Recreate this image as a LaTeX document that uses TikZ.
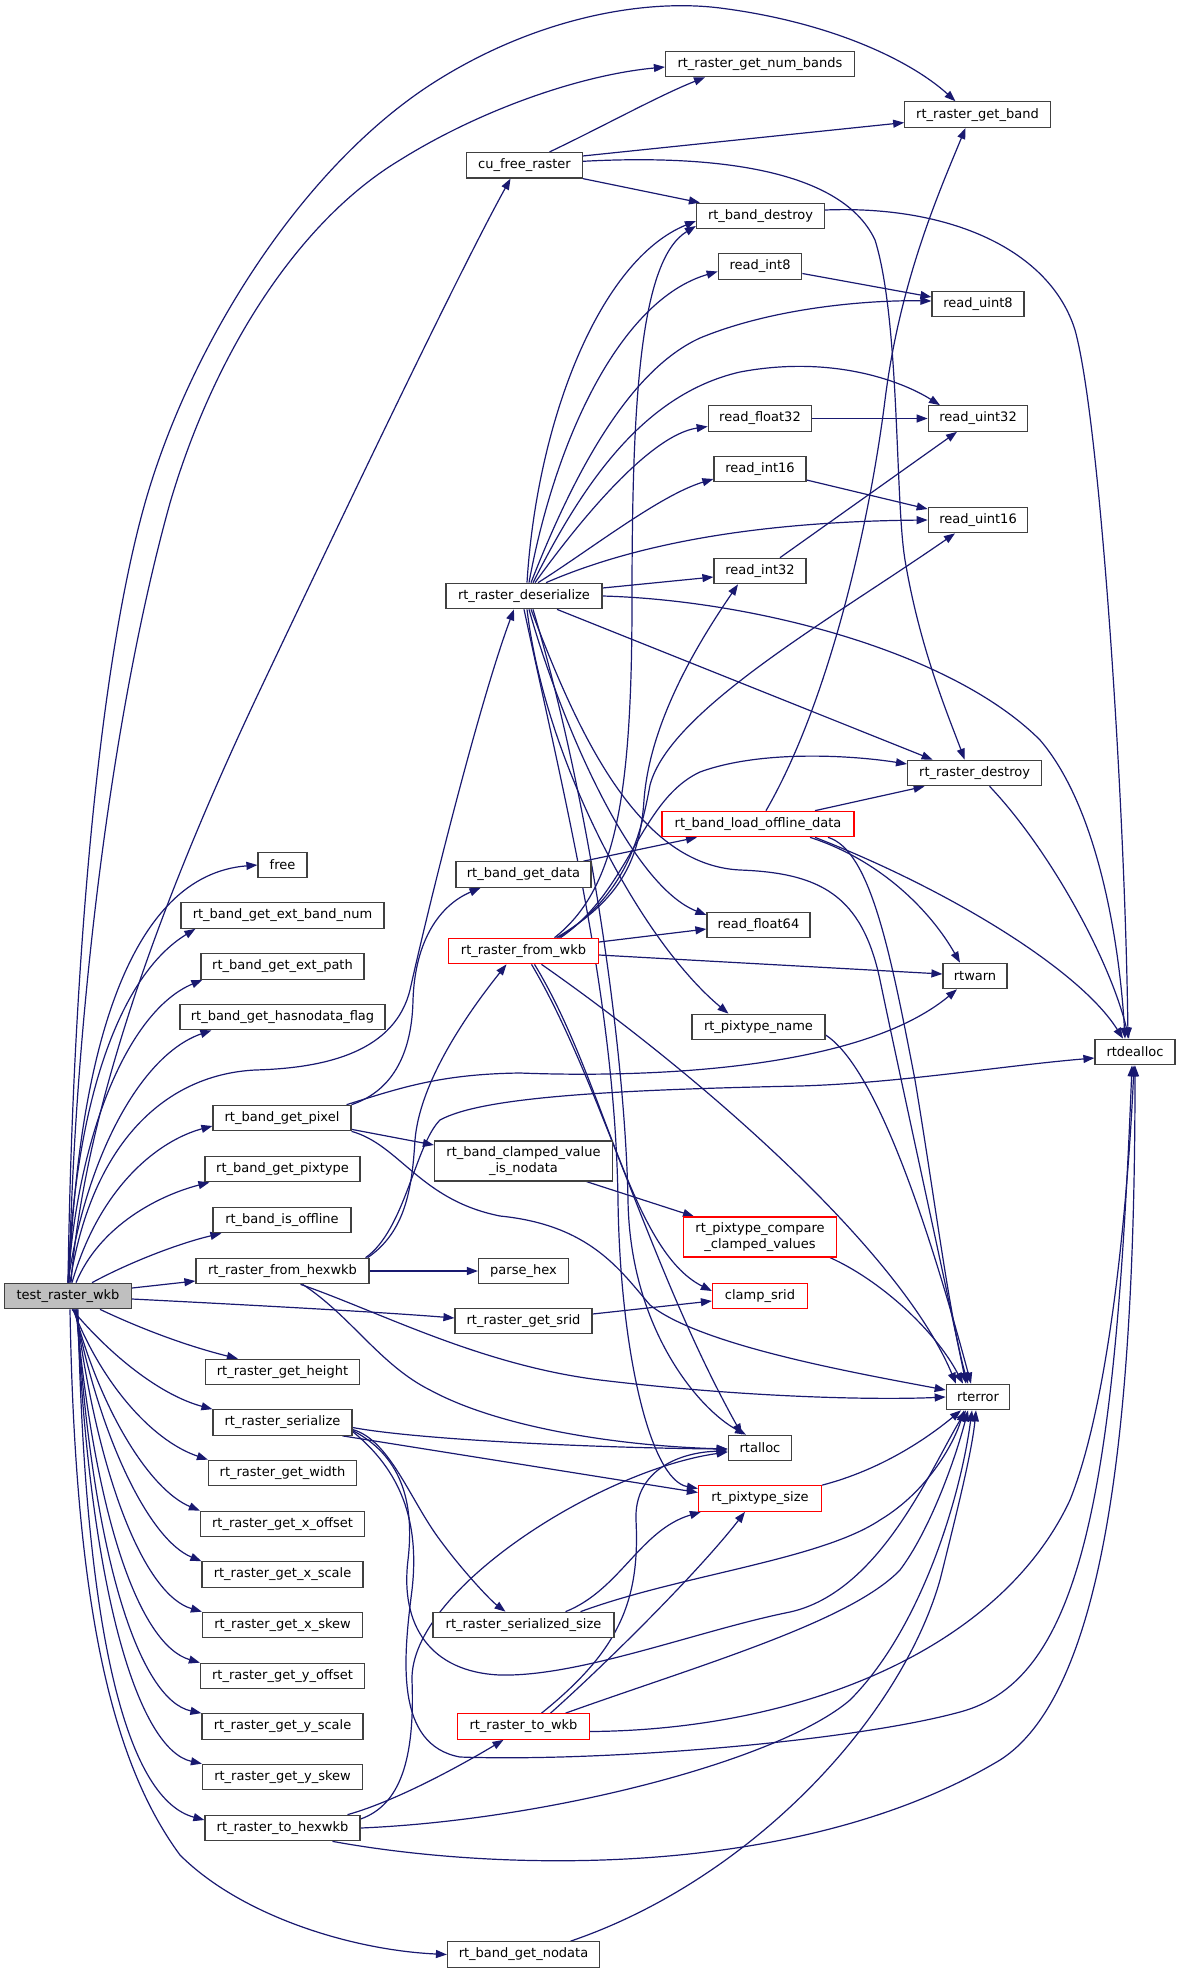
\documentclass[tikz,border=0pt]{standalone}
\usepackage{fontspec}
\setmainfont{DejaVu Sans}
\usetikzlibrary{arrows.meta}
\definecolor{edgec}{RGB}{25,25,112}
\definecolor{tfill}{RGB}{191,191,191}
\definecolor{bord}{RGB}{64,64,64}
\pgfdeclarelayer{bg}
\pgfsetlayers{bg,main}
\begin{document}
\begin{tikzpicture}[x=1pt,y=-1pt,
  nd/.style={draw=bord, line width=1.2pt, fill=white, minimum height=25.5pt, inner sep=0pt, font=\fontsize{13}{16}\selectfont},
  rnd/.style={nd, draw=red},
  e/.style={draw=edgec, line width=1.2pt, -{Triangle[length=11pt,width=8pt]}}]
\useasboundingbox (0,0) rectangle (1176,1973);
% column 1
\node[nd, fill=tfill, minimum width=127pt] (T) at (68,1296) {test\_raster\_wkb};
% column 2
\node[nd, minimum width=49pt] (free) at (282.5,865) {free};
\node[nd, minimum width=203pt] (ebn) at (282.5,915.5) {rt\_band\_get\_ext\_band\_num};
\node[nd, minimum width=163pt] (ep) at (282.5,966.5) {rt\_band\_get\_ext\_path};
\node[nd, minimum width=205pt] (hnf) at (282.5,1017) {rt\_band\_get\_hasnodata\_flag};
\node[nd, minimum width=138pt] (gp) at (282,1118) {rt\_band\_get\_pixel};
\node[nd, minimum width=155pt] (gpt) at (282.5,1169) {rt\_band\_get\_pixtype};
\node[nd, minimum width=138pt] (io) at (282,1220) {rt\_band\_is\_offline};
\node[nd, minimum width=173pt] (fh) at (282.5,1271) {rt\_raster\_from\_hexwkb};
\node[nd, minimum width=154pt] (gh) at (282.5,1372) {rt\_raster\_get\_height};
\node[nd, minimum width=139pt] (S) at (282.5,1422.5) {rt\_raster\_serialize};
\node[nd, minimum width=148pt] (gw) at (282.5,1473) {rt\_raster\_get\_width};
\node[nd, minimum width=164pt] (xo) at (282.5,1524) {rt\_raster\_get\_x\_offset};
\node[nd, minimum width=161pt] (xs) at (282.5,1574.5) {rt\_raster\_get\_x\_scale};
\node[nd, minimum width=160pt] (xk) at (282.5,1625) {rt\_raster\_get\_x\_skew};
\node[nd, minimum width=164pt] (yo) at (282.5,1676) {rt\_raster\_get\_y\_offset};
\node[nd, minimum width=161pt] (ys) at (282.5,1726.5) {rt\_raster\_get\_y\_scale};
\node[nd, minimum width=160pt] (yk) at (282.5,1777) {rt\_raster\_get\_y\_skew};
\node[nd, minimum width=155pt] (TH) at (282.5,1828) {rt\_raster\_to\_hexwkb};
% column 3
\node[nd, minimum width=116pt] (C) at (524.5,165.3) {cu\_free\_raster};
\node[nd, minimum width=156pt] (D) at (524,596) {rt\_raster\_deserialize};
\node[nd, minimum width=135pt] (GD) at (523.5,874.5) {rt\_band\_get\_data};
\node[rnd, minimum width=150pt] (W) at (523.5,951) {rt\_raster\_from\_wkb};
\node[nd, minimum width=178pt, minimum height=40pt, align=center] (CV) at (523.5,1161) {rt\_band\_clamped\_value\\\_is\_nodata};
\node[nd, minimum width=90pt] (ph) at (523.5,1271) {parse\_hex};
\node[nd, minimum width=137pt] (srid) at (523.5,1321) {rt\_raster\_get\_srid};
\node[nd, minimum width=181pt] (SS) at (523.5,1625) {rt\_raster\_serialized\_size};
\node[rnd, minimum width=132pt] (TW) at (523.5,1726.5) {rt\_raster\_to\_wkb};
\node[nd, minimum width=152pt] (GN) at (523.5,1954.5) {rt\_band\_get\_nodata};
% column 4
\node[nd, minimum width=189pt] (NB) at (760,64) {rt\_raster\_get\_num\_bands};
\node[nd, minimum width=128pt] (BD) at (760.5,216) {rt\_band\_destroy};
\node[nd, minimum width=83.5pt] (ri8) at (760,266.5) {read\_int8};
\node[nd, minimum width=103.5pt] (rf32) at (760,418.5) {read\_float32};
\node[nd, minimum width=92pt] (ri16) at (760,469) {read\_int16};
\node[nd, minimum width=92pt] (ri32) at (760,571) {read\_int32};
\node[rnd, minimum width=192pt] (LO) at (758,824) {rt\_band\_load\_offline\_data};
\node[nd, minimum width=103pt] (rf64) at (758.5,925) {read\_float64};
\node[nd, minimum width=133pt] (PN) at (758.5,1027) {rt\_pixtype\_name};
\node[rnd, minimum width=153.5pt, minimum height=40pt, align=center] (PC) at (760,1237) {rt\_pixtype\_compare\\\_clamped\_values};
\node[rnd, minimum width=95pt] (CS) at (760,1296) {clamp\_srid};
\node[nd, minimum width=63.5pt] (RA) at (760,1448) {rtalloc};
\node[rnd, minimum width=123pt] (PS) at (760,1498.5) {rt\_pixtype\_size};
% column 5
\node[nd, minimum width=145.5pt] (GB) at (977.5,114.6) {rt\_raster\_get\_band};
\node[nd, minimum width=92pt] (ru8) at (978,304) {read\_uint8};
\node[nd, minimum width=99.5pt] (ru32) at (978,418.5) {read\_uint32};
\node[nd, minimum width=99.5pt] (ru16) at (978,520) {read\_uint16};
\node[nd, minimum width=134pt] (RD) at (974.6,773) {rt\_raster\_destroy};
\node[nd, minimum width=64pt] (RW) at (975,976) {rtwarn};
\node[nd, minimum width=63.5pt] (RE) at (978,1397) {rterror};
% column 6
\node[nd, minimum width=80pt] (DA) at (1135,1052) {rtdealloc};

\begin{pgfonlayer}{bg}
% from test_raster_wkb
\draw[e] (T.north) .. controls (72,1000) and (95,680) .. (145,503) .. controls (190,345) and (300,170) .. (430,85) .. controls (530,20) and (640,-2) .. (720,8) .. controls (830,22) and (910,60) .. ([xshift=-22pt]GB.north);
\draw[e] ([xshift=1pt]T.north) .. controls (75,1000) and (115,700) .. (170,503) .. controls (215,350) and (300,220) .. (400,160) .. controls (480,110) and (580,75) .. ([yshift=-3pt]NB.west);
\draw[e] ([xshift=3pt]T.north) .. controls (85,1100) and (170,880) .. (260,690) .. controls (350,500) and (460,270) .. ([xshift=-14pt]C.south);
\draw[e] ([xshift=1pt]T.north) .. controls (78,1050) and (130,875) .. (free.west);
\draw[e] (T.north) .. controls (75,1100) and (120,975) .. ([xshift=15pt]ebn.south west);
\draw[e] (T.north) .. controls (78,1130) and (130,1010) .. ([xshift=2pt]ep.south west);
\draw[e] (T.north) .. controls (85,1160) and (140,1055) .. ([xshift=32pt]hnf.south west);
\draw[e] ([xshift=2pt]T.north) .. controls (90,1150) and (160,1075) .. (255,1070) .. controls (330,1068) and (395,1050) .. (410,990) .. controls (430,900) and (480,700) .. ([xshift=-10pt]D.south);
\draw[e] ([xshift=4pt]T.north) .. controls (100,1185) and (160,1140) .. ([yshift=-8pt]gp.west);
\draw[e] ([xshift=8pt]T.north) .. controls (100,1225) and (160,1195) .. ([xshift=5pt]gpt.south west);
\draw[e] ([xshift=24pt]T.north) .. controls (130,1262) and (180,1243) .. ([xshift=9pt]io.south west);
\draw[e] ([yshift=8pt]T.east) -- ([yshift=-10pt]fh.west);
\draw[e] ([yshift=-3pt]T.east) .. controls (250,1305) and (380,1312) .. ([yshift=3pt]srid.west);
\draw[e] ([xshift=32pt]T.south) .. controls (150,1333) and (195,1348) .. ([xshift=33pt]gh.north west);
\draw[e] ([xshift=4pt]T.south) .. controls (110,1355) and (160,1395) .. (S.north west);
\draw[e] ([xshift=5pt]T.south) .. controls (100,1380) and (150,1440) .. (gw.north west);
\draw[e] ([xshift=6pt]T.south) .. controls (100,1410) and (150,1490) .. (xo.north west);
\draw[e] ([xshift=7pt]T.south) .. controls (100,1440) and (150,1540) .. (xs.north west);
\draw[e] ([xshift=8pt]T.south) .. controls (98,1480) and (145,1595) .. (xk.north west);
\draw[e] ([xshift=8pt]T.south) .. controls (95,1520) and (140,1645) .. (yo.north west);
\draw[e] ([xshift=9pt]T.south) .. controls (92,1560) and (140,1700) .. (ys.north west);
\draw[e] ([xshift=9pt]T.south) .. controls (90,1600) and (140,1750) .. (yk.north west);
\draw[e] ([xshift=10pt]T.south) .. controls (85,1650) and (130,1800) .. ([yshift=8pt]TH.west);
\draw[e] ([xshift=2pt]T.south) .. controls (75,1600) and (110,1760) .. (180,1855) .. controls (240,1915) and (350,1950) .. (GN.west);
% cu_free_raster
\draw[e] ([xshift=25pt]C.north) .. controls (600,128) and (660,95) .. ([xshift=-55pt]NB.south);
\draw[e] ([yshift=-4pt]C.north east) -- ([yshift=-8pt]GB.west);
\draw[e] ([yshift=4pt]C.east) .. controls (700,155) and (840,165) .. (875,240) .. controls (900,320) and (895,500) .. (905,560) .. controls (920,650) and (950,720) .. ([xshift=-10pt]RD.north);
\draw[e] (C.south east) -- ([xshift=4pt]BD.north west);
% rt_band_destroy
\draw[e] ([yshift=6pt]BD.east) .. controls (950,205) and (1050,250) .. (1075,330) .. controls (1100,420) and (1125,800) .. ([xshift=-7pt]DA.north);
% read_*
\draw[e] ([yshift=-7pt]ri8.east) -- ([yshift=7pt]ru8.west);
\draw[e] (rf32) -- (ru32);
\draw[e] ([yshift=-11pt]ri16.east) -- ([yshift=11pt]ru16.west);
\draw[e] ([xshift=20pt]ri32.north) -- ([xshift=-21pt]ru32.south);
% rt_raster_deserialize
\draw[e] ([xshift=3pt]D.north) .. controls (537,420) and (600,260) .. ([yshift=-5pt]BD.west);
\draw[e] ([xshift=5pt]D.north) .. controls (555,440) and (620,300) .. ([yshift=-5pt]ri8.west);
\draw[e] ([xshift=7pt]D.north) .. controls (575,470) and (630,370) .. (700,338) .. controls (780,305) and (880,300) .. ([yshift=3pt]ru8.west);
\draw[e] ([xshift=9pt]D.north) .. controls (580,490) and (640,395) .. (740,372) .. controls (830,355) and (900,380) .. ([xshift=-38pt]ru32.north);
\draw[e] ([xshift=11pt]D.north) .. controls (580,520) and (650,435) .. ([yshift=-8pt]rf32.west);
\draw[e] ([xshift=14pt]D.north) .. controls (590,550) and (660,495) .. ([yshift=-10pt]ri16.west);
\draw[e] ([xshift=22pt]D.north) .. controls (610,555) and (720,522) .. (ru16.west);
\draw[e] ([yshift=8pt]D.east) -- ([yshift=-6pt]ri32.west);
\draw[e] (D.east) .. controls (750,600) and (950,650) .. (1040,740) .. controls (1100,810) and (1120,950) .. ([xshift=-10pt]DA.north);
\draw[e] ([xshift=33pt]D.south) -- ([xshift=-42pt]RD.north);
\draw[e] ([xshift=5pt]D.south) .. controls (560,720) and (630,885) .. ([yshift=10pt]rf64.west);
\draw[e] ([xshift=3pt]D.south) .. controls (545,760) and (640,940) .. ([xshift=-30pt]PN.north);
\draw[e] ([xshift=7pt]D.south) .. controls (580,740) and (640,865) .. (740,870) .. controls (820,873) and (862,895) .. (880,980) .. controls (905,1100) and (945,1280) .. ([xshift=-12pt]RE.north);
\draw[e] (D.south) .. controls (565,800) and (615,1000) .. (618,1200) .. controls (620,1350) and (650,1480) .. ([yshift=10pt]PS.west);
\draw[e] ([xshift=9pt]D.south) .. controls (590,800) and (625,1050) .. (628,1200) .. controls (630,1330) and (700,1410) .. ([xshift=-14pt]RA.north);
% rt_raster_from_wkb
\draw[e] ([xshift=33pt]W.north) .. controls (620,900) and (640,860) .. (644,800) .. controls (650,720) and (700,640) .. ([xshift=-22pt]ri32.south);
\draw[e] ([xshift=35pt]W.north) .. controls (625,895) and (640,840) .. (650,785) .. controls (670,710) and (830,620) .. ([xshift=-23pt]ru16.south);
\draw[e] ([xshift=37pt]W.north) .. controls (630,890) and (640,800) .. (700,772) .. controls (760,750) and (850,755) .. ([yshift=9pt]RD.west);
\draw[e] ([xshift=31pt]W.north) .. controls (615,890) and (632,800) .. (632,600) .. controls (632,400) and (640,260) .. ([yshift=-10pt]BD.west);
\draw[e] ([yshift=9pt]W.east) -- ([yshift=-4pt]rf64.west);
\draw[e] ([yshift=-4pt]W.east) -- ([yshift=2pt]RW.west);
\draw[e] ([xshift=18pt]W.south) .. controls (700,1075) and (900,1250) .. ([xshift=-22pt]RE.north);
\draw[e] ([xshift=8pt]W.south) .. controls (600,1080) and (650,1270) .. ([xshift=-18pt]RA.north);
\draw[e] ([xshift=11pt]W.south) .. controls (605,1080) and (630,1250) .. ([yshift=5pt]CS.west);
% rt_band_get_data
\draw[e] ([xshift=60pt]GD.north) -- ([xshift=-61pt]LO.south);
% rt_band_get_pixel
\draw[e] (gp.north east) .. controls (395,1090) and (412,1050) .. (413,1000) .. controls (415,940) and (440,905) .. ([xshift=-43pt]GD.south);
\draw[e] ([yshift=2pt]gp.south east) -- ([yshift=16pt]CV.west);
\draw[e] ([xshift=-5pt]gp.north east) .. controls (400,1088) and (440,1074) .. (520,1073) .. controls (650,1078) and (860,1070) .. ([xshift=-18pt]RW.south);
\draw[e] (gp.south east) .. controls (400,1145) and (420,1200) .. (500,1216) .. controls (590,1225) and (620,1270) .. (650,1305) .. controls (700,1345) and (850,1372) .. ([yshift=7pt]RE.west);
% rt_raster_from_hexwkb
\draw[e] (fh) -- (ph);
\draw[e] ([xshift=-2pt]fh.north east) .. controls (405,1232) and (412,1190) .. (415,1140) .. controls (420,1080) and (470,1010) .. ([xshift=-17pt]W.south);
\draw[e] ([xshift=-4pt]fh.north east) .. controls (405,1230) and (415,1145) .. (440,1120) .. controls (480,1098) and (600,1090) .. (800,1086) .. controls (900,1083) and (1000,1066) .. ([yshift=-6pt]DA.west);
\draw[e] ([xshift=20pt]fh.south) .. controls (350,1315) and (380,1365) .. (430,1390) .. controls (500,1428) and (620,1446) .. ([yshift=-1pt]RA.west);
\draw[e] ([xshift=18pt]fh.south) .. controls (380,1312) and (480,1365) .. (600,1380) .. controls (750,1398) and (880,1400) .. (RE.west);
% others
\draw[e] ([yshift=7pt]srid.east) -- ([yshift=-5pt]CS.west);
\draw[e] ([xshift=63pt]CV.south) -- ([xshift=-66pt]PC.north);
\draw[e] ([xshift=70pt]PC.south) .. controls (880,1280) and (935,1330) .. ([xshift=-15pt]RE.north);
\draw[e] ([yshift=-8pt]PN.east) .. controls (880,1070) and (935,1250) .. ([xshift=-7pt]RE.north);
\draw[e] (PS.north east) .. controls (880,1470) and (925,1440) .. ([xshift=-17pt]RE.south);
% rt_band_load_offline_data
\draw[e] ([xshift=8pt]LO.north) .. controls (830,700) and (870,520) .. (885,400) .. controls (900,280) and (940,190) .. ([xshift=-12pt]GB.south);
\draw[e] ([xshift=57pt]LO.north) -- ([xshift=-50pt]RD.south);
\draw[e] ([xshift=52pt]LO.south) .. controls (880,860) and (930,910) .. ([xshift=-15pt]RW.north);
\draw[e] ([xshift=57pt]LO.south) .. controls (950,890) and (1080,970) .. ([xshift=-12pt]DA.north);
\draw[e] ([xshift=70pt]LO.south) .. controls (870,850) and (890,950) .. (915,1080) .. controls (935,1200) and (950,1320) .. ([xshift=-10pt]RE.north);
% rt_raster_destroy
\draw[e] ([xshift=15pt]RD.south) .. controls (1050,850) and (1110,960) .. ([xshift=-6pt]DA.north);
% rt_raster_serialize
\draw[e] ([yshift=-5pt]S.east) .. controls (420,1440) and (600,1448) .. ([yshift=-1pt]RA.west);
\draw[e] ([xshift=60pt]S.south) -- ([yshift=6pt]PS.west);
\draw[e] ([yshift=-7pt]S.east) .. controls (390,1440) and (410,1500) .. (440,1540) .. controls (462,1570) and (490,1600) .. ([xshift=-18pt]SS.north);
\draw[e] ([yshift=-8pt]S.east) .. controls (400,1455) and (415,1500) .. (408,1560) .. controls (400,1625) and (430,1672) .. (500,1675) .. controls (580,1677) and (700,1630) .. (790,1612) .. controls (880,1592) and (930,1470) .. ([xshift=-12pt]RE.south);
\draw[e] ([yshift=-9pt]S.east) .. controls (400,1470) and (420,1520) .. (412,1590) .. controls (403,1660) and (395,1745) .. (460,1757) .. controls (600,1762) and (850,1742) .. (960,1712) .. controls (1080,1680) and (1115,1500) .. ([xshift=-3pt]DA.south);
% rt_raster_to_hexwkb
\draw[e] ([xshift=65pt]TH.north) .. controls (400,1800) and (470,1760) .. ([xshift=-20pt]TW.south);
\draw[e] ([yshift=9pt]TH.east) .. controls (400,1805) and (415,1760) .. (412,1680) .. controls (410,1590) and (600,1470) .. ([yshift=-4pt]RA.west);
\draw[e] (TH.east) .. controls (550,1820) and (780,1760) .. (850,1700) .. controls (920,1630) and (960,1500) .. ([xshift=-6pt]RE.south);
\draw[e] ([xshift=50pt]TH.south) .. controls (500,1872) and (800,1880) .. (1000,1760) .. controls (1110,1690) and (1135,1400) .. (DA.south);
% rt_raster_to_wkb
\draw[e] ([xshift=18pt]TW.north) .. controls (620,1650) and (640,1600) .. (636,1520) .. controls (634,1470) and (680,1452) .. ([yshift=-3pt]RA.west);
\draw[e] ([xshift=27pt]TW.north) .. controls (610,1660) and (700,1570) .. ([xshift=-15pt]PS.south);
\draw[e] ([xshift=42pt]TW.north) .. controls (700,1665) and (850,1622) .. (900,1570) .. controls (930,1530) and (955,1460) .. ([xshift=-10pt]RE.south);
\draw[e] ([yshift=-5pt]TW.east) .. controls (800,1730) and (1000,1650) .. (1070,1500) .. controls (1110,1400) and (1128,1200) .. ([xshift=-1pt]DA.south);
% rt_raster_serialized_size
\draw[e] ([xshift=42pt]SS.north) .. controls (620,1590) and (640,1530) .. ([xshift=3pt]PS.south west);
\draw[e] ([xshift=57pt]SS.north) .. controls (680,1575) and (820,1560) .. (880,1520) .. controls (930,1490) and (955,1440) .. ([xshift=-14pt]RE.south);
% rt_band_get_nodata
\draw[e] ([xshift=47pt]GN.north) .. controls (750,1880) and (900,1720) .. (940,1580) .. controls (960,1500) and (972,1450) .. ([xshift=-2pt]RE.south);
\end{pgfonlayer}
\end{tikzpicture}
\end{document}
